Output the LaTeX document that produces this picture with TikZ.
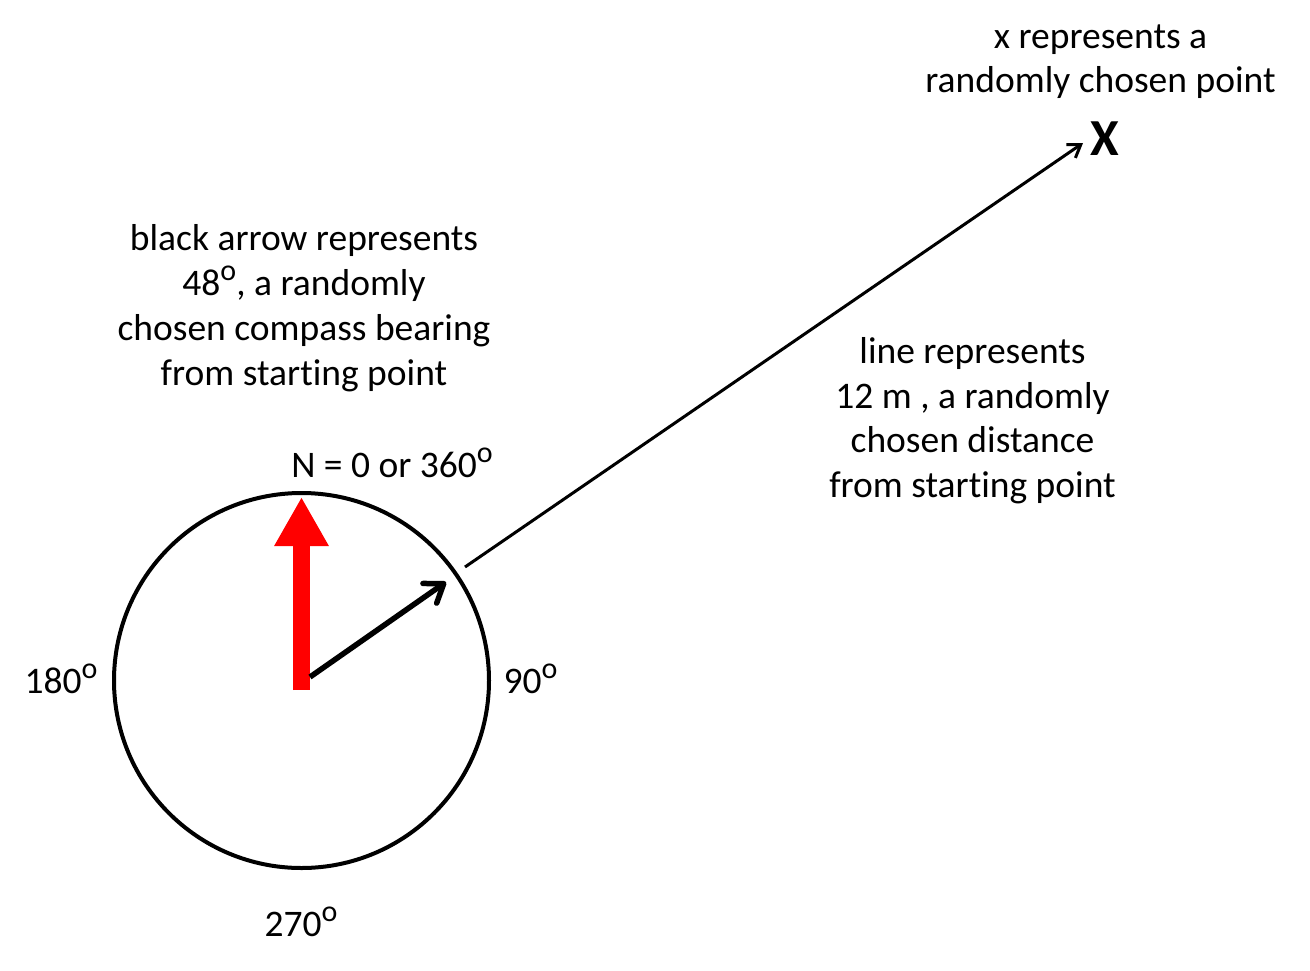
\documentclass[tikz,border=0pt]{standalone}
\usepackage{fontspec}
\setmainfont{Carlito}[Ligatures={NoCommon}]
\usetikzlibrary{arrows.meta}
\newcommand\degsup{\raisebox{0.4em}{\fontsize{30}{30}\selectfont o}}
\begin{document}
\begin{tikzpicture}[x=1pt,y=-1pt,
  lbl/.style={anchor=base,inner sep=0pt,font=\fontsize{37.5}{45}\selectfont},
  ring/.style={circle,draw,line width=4pt,minimum size=375pt,inner sep=0pt},
  northarrow/.style={red,line width=17pt,-{Triangle[length=49pt,width=51pt]}},
  bearing/.style={line width=5.5pt,-{Straight Barb[round,length=17pt,width=24pt]}},
  distline/.style={line width=3pt,-{Straight Barb[length=12pt,width=16pt]}}]
\useasboundingbox (0,0) rectangle (1310,970);
\fill[white] (0,0) rectangle (1310,970);
% compass
\node[ring] (compass) at (301.5,680.5) {};
\coordinate (redbase) at (301.5,690);
\coordinate (redtip) at (301.5,497);
\coordinate (bstart) at (310,677);
\coordinate (btip) at (446,582);
\coordinate (lstart) at (465,567);
\coordinate (xtip) at (1083,143);
\draw[northarrow] (redbase) -- (redtip);
\draw[bearing] (bstart) -- (btip);
\draw[distline] (lstart) -- (xtip);
\node[anchor=base,inner sep=0pt,font=\fontsize{52}{52}\selectfont\bfseries] (xmark) at (1105,155) {X};
% labels
\node[lbl] (n) at (392,477) {N = 0 or 360\degsup};
\node[lbl] (w) at (61,693) {180\degsup};
\node[lbl] (e) at (530.5,693) {90\degsup};
\node[lbl] (s) at (301,936) {270\degsup};
% x text
\node[lbl] (xa) at (1100.5,48) {x represents a};
\node[lbl] (xb) at (1100.5,92) {randomly chosen point};
% black arrow text
\node[lbl] (ba) at (304,250) {black arrow represents};
\node[lbl] (bb) at (304,295) {48\degsup, a randomly};
\node[lbl] (bc) at (304,340) {chosen compass bearing};
\node[lbl] (bd) at (304,385) {from starting point};
% line text
\node[lbl] (la) at (972.5,363) {line represents};
\node[lbl] (lb) at (972.5,408) {12 m , a randomly};
\node[lbl] (lc) at (972.5,452) {chosen distance};
\node[lbl] (ld) at (972.5,497) {from starting point};
\end{tikzpicture}
\end{document}
